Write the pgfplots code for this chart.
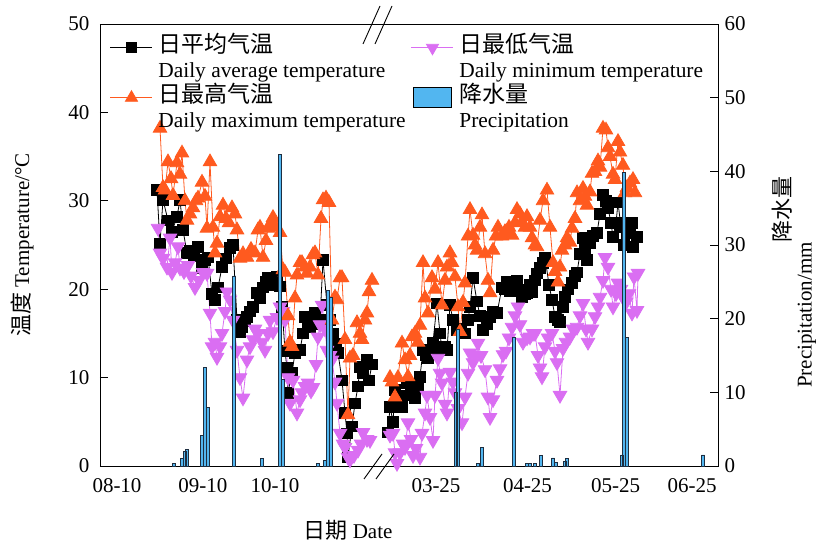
\documentclass[border=0pt]{standalone}
\usepackage{fontspec}
\setmainfont{Liberation Serif}
\newfontfamily\cjk{Noto Sans CJK SC}
\usepackage{pgfplots}
\usepackage{pgfplotstable}
\pgfplotsset{compat=1.18}

\definecolor{maxc}{HTML}{FF5A1F}
\definecolor{minc}{HTML}{DA6EF2}
\definecolor{barfill}{HTML}{52B6F0}
\definecolor{baredge}{HTML}{1E2E40}

% x = horizontal position along the (broken) date axis
\pgfplotstableread{
x y
157 31.2
160 25.2
163 30.1
168 27.8
172 26.5
177 28.2
180 30.1
183 26.7
187 24.1
190 24.4
194 23.8
198 24.8
202 22.4
205 23.3
208 23.6
212 19.5
215 18.8
218 20.2
222 22.5
226 23.5
230 24.7
233 25.0
237 16.5
240 15.2
242 15.7
245 16.4
247 16.9
250 17.5
253 18.0
257 19.6
260 19.0
263 20.2
266 20.8
268 21.3
271 20.5
273 20.7
277 21.4
280 20.3
282 18.0
285 13.0
287 11.1
288 8.3
292 10.5
295 12.8
300 13.1
303 15.0
305 16.9
308 16.0
310 15.7
313 16.5
315 17.3
318 16.0
320 16.5
323 23.3
327 18.2
330 16.5
333 15.0
336 13.8
338 12.8
342 9.7
345 6.0
347 3.7
348 1.0
352 4.5
355 7.1
358 9.0
360 11.2
363 10.5
367 12.0
369 9.7
372 11.5
380 nan
388 3.8
390 6.7
393 5.0
395 8.6
398 7.5
402 6.7
405 8.0
407 9.4
411 8.5
415 7.7
418 9.0
420 10.1
423 13.1
426 12.5
428 12.2
431 13.0
433 14.0
437 18.4
440 15.0
442 13.1
445 13.5
447 13.1
450 18.2
453 16.5
457 15.4
461 15.5
465 15.0
468 16.5
470 18.0
473 21.3
477 18.6
480 17.0
483 15.4
487 16.0
490 16.9
493 17.5
497 17.3
502 20.2
505 20.0
507 20.8
510 19.8
512 20.2
515 20.5
517 21.0
520 20.0
522 19.1
525 19.5
527 19.6
530 20.5
532 19.7
535 21.0
537 21.8
540 22.4
543 23.0
545 23.6
549 20.5
552 18.8
555 16.9
558 16.5
560 16.3
563 18.0
565 19.1
568 20.0
572 20.7
575 21.5
577 21.9
580 24.0
583 25.8
585 24.5
587 23.3
590 25.2
593 26.0
597 26.4
600 28.5
603 30.7
606 30.0
608 29.2
611 27.5
613 25.9
616 27.5
618 29.8
621 27.0
624 25.0
627 26.4
630 27.0
632 27.5
633 24.8
637 25.9
}\avgtab

\pgfplotstableread{
x y
160 38.2
163 31.5
165 31.2
168 34.4
171 32.5
173 30.6
177 34.3
180 33.0
182 35.4
185 30.0
187 27.8
190 28.5
193 29.2
196 30.0
198 30.3
202 32.1
205 30.5
207 26.9
210 34.4
213 27.0
215 24.1
217 25.2
220 28.2
223 29.5
226 28.0
229 27.5
232 29.2
235 28.5
237 26.7
240 23.5
243 24.0
247 23.6
251 24.5
255 24.1
258 26.7
260 27.0
263 23.6
266 25.5
268 26.9
271 27.5
273 28.1
276 27.0
280 26.4
283 22.2
285 21.9
288 17.0
290 14.0
292 13.5
295 19.0
297 21.6
300 23.0
302 23.0
305 22.5
307 21.8
310 22.5
313 23.9
315 24.1
318 21.6
321 28.0
323 30.1
326 30.3
329 29.8
332 16.5
335 19.1
337 18.8
340 21.3
342 21.3
345 14.3
348 5.8
350 12.2
353 12.5
357 16.2
360 15.0
362 14.3
365 16.5
367 17.3
369 19.7
372 21.0
380 nan
390 10.0
392 9.5
395 7.8
398 10.0
402 13.9
405 12.0
408 10.1
410 12.5
412 14.6
415 15.0
418 14.0
420 15.9
423 23.0
425 19.0
428 17.3
432 21.3
435 20.0
438 23.0
442 18.2
445 21.0
447 22.5
450 24.1
452 23.0
455 21.4
458 18.0
460 15.2
463 18.5
465 20.7
468 26.0
470 29.0
473 26.1
475 25.0
477 24.4
480 27.0
482 28.4
485 24.0
488 21.0
490 19.6
493 24.4
496 26.0
498 27.0
502 26.0
505 26.5
509 27.0
512 26.1
515 27.5
517 29.0
520 28.5
522 27.6
525 27.0
527 28.2
530 27.0
532 25.8
535 25.0
537 24.8
540 27.8
543 30.0
547 31.2
550 27.0
553 23.0
555 22.0
558 20.8
560 22.5
562 24.4
565 25.0
567 25.8
570 25.3
572 26.9
575 28.0
577 30.9
580 30.0
583 31.4
585 30.5
587 29.5
590 31.0
592 33.1
595 33.3
598 34.5
600 33.8
603 38.2
606 38.0
608 36.0
610 35.0
613 33.0
615 32.4
618 36.7
620 35.5
623 34.0
625 30.9
627 31.5
630 32.0
633 32.4
635 30.9
}\maxtab

\pgfplotstableread{
x y
158 26.9
160 24.1
163 23.5
167 22.5
170 25.8
172 21.9
175 23.0
178 24.8
180 22.4
184 22.0
188 22.7
191 21.5
195 20.2
199 21.0
203 21.9
207 21.8
210 17.3
212 13.5
215 14.0
217 12.3
220 13.5
222 15.0
225 17.5
227 19.7
230 18.8
233 16.5
237 13.1
240 10.0
243 7.7
247 12.0
250 13.5
253 14.3
255 15.5
258 15.0
262 14.0
265 13.1
268 15.0
270 16.5
273 15.2
277 16.8
280 18.0
283 17.5
285 16.5
288 10.0
290 7.1
293 9.7
297 6.0
300 7.5
302 8.3
305 9.0
308 9.4
311 8.5
313 8.9
316 11.5
318 14.6
320 16.0
322 18.2
325 15.5
327 13.1
330 12.5
332 12.0
335 9.5
337 7.1
340 3.7
343 2.5
345 2.1
348 1.0
350 0.7
354 1.2
358 1.8
361 2.5
363 3.8
367 3.0
370 2.9
380 nan
390 3.5
393 3.7
395 1.5
397 0.3
400 1.5
403 2.5
405 2.1
408 4.9
411 3.0
413 1.2
416 2.0
420 1.0
422 3.7
425 6.0
427 8.0
430 5.5
433 2.9
435 8.0
438 12.2
440 10.5
442 9.4
445 7.0
447 6.0
450 10.6
453 9.5
455 8.3
458 6.5
462 4.9
465 7.8
468 10.5
470 12.8
473 11.7
475 12.5
478 13.9
481 12.5
485 10.9
488 7.8
490 5.5
493 7.5
497 9.7
500 11.0
503 12.6
506 13.0
509 14.5
512 15.7
515 17.0
518 18.0
520 16.0
523 14.0
527 14.5
530 14.6
533 15.0
535 15.0
538 12.5
540 11.1
542 10.1
545 13.5
548 14.5
552 15.0
555 13.0
557 11.7
560 8.0
563 13.3
566 14.0
570 14.6
573 15.5
577 15.7
580 17.0
583 18.4
586 15.5
588 14.0
592 15.5
595 16.9
598 18.0
600 19.1
603 21.0
605 23.6
608 22.5
611 20.0
613 18.0
616 19.5
618 20.7
621 20.0
623 19.1
626 18.5
629 19.5
632 17.3
634 21.4
637 17.6
638 21.8
}\mintab

\pgfplotstableread{
x y
174 0.3
182 1.0
185 2.0
187 2.2
202 4.1
205 13.4
208 7.9
234 25.8
262 1.0
280 42.3
283 11.7
318 0.4
325 0.8
328 23.8
331 22.9
456 10.0
458 18.5
478 0.4
482 2.5
514 17.4
527 0.4
530 0.3
535 0.4
541 1.4
553 1.1
556 0.5
565 0.6
567 1.0
622 1.5
624 39.9
627 17.4
703 1.5
}\preciptab

\begin{document}
\begin{tikzpicture}
\useasboundingbox (-100pt,-78pt) rectangle (717pt,466pt);
\begin{axis}[
  at={(0pt,0pt)}, anchor=south west,
  scale only axis, width=618pt, height=442pt,
  xmin=100, xmax=718, ymin=0, ymax=50,
  ytick={0,10,20,30,40,50}, ytick pos=left,
  tick align=inside, major tick length=8pt,
  xtick={117,202.9,275,436,527.5,615.5,692},
  xticklabels={08-10,09-10,10-10,03-25,04-25,05-25,06-25},
  xtick pos=bottom, xtick style={draw=none},
  tick label style={font=\fontsize{21}{25}\selectfont},
  xticklabel style={yshift=-9pt},
  yticklabel style={xshift=-7pt},
  /pgf/number format/assume math mode=true,
  axis line style={line width=0.9pt},
  tick style={line width=0.9pt, black},
  unbounded coords=jump,
  legend columns=2,
  legend cell align=left,
  legend style={draw=none, fill=none, at={(0.016,0.975)}, anchor=north west,
    inner sep=0pt, row sep=0pt,
    nodes={inner sep=1.5pt, text height=16pt, text depth=6pt},
    font=\fontsize{21.4}{25}\selectfont,
    /tikz/every odd column/.append style={column sep=4pt},
    /tikz/every even column/.append style={column sep=4pt}},
  legend image code/.code={\draw[#1, mark repeat=2, mark phase=2] plot coordinates {(0pt,0pt) (21pt,0pt) (42pt,0pt)};},
]
\addplot[forget plot, black, line width=0.8pt, mark=square*, mark size=5.3pt, mark options={solid, fill=black}] table {\avgtab};
\addplot[forget plot, minc, line width=0.8pt, mark=triangle*, mark size=7.8pt, mark options={solid, fill=minc, rotate=180}] table {\mintab};
\addplot[forget plot, maxc, line width=0.8pt, mark=triangle*, mark size=7.8pt, mark options={solid, fill=maxc}] table {\maxtab};

\addlegendimage{black, line width=0.8pt, mark=square*, mark size=5pt}
\addlegendentry{{\cjk\fontsize{23}{26}\selectfont 日平均气温}}
\addlegendimage{minc, line width=0.8pt, mark=triangle*, mark size=7pt, mark options={rotate=180}}
\addlegendentry{{\cjk\fontsize{23}{26}\selectfont 日最低气温}}
\addlegendimage{empty legend}
\addlegendentry{Daily average temperature}
\addlegendimage{empty legend}
\addlegendentry{Daily minimum temperature}
\addlegendimage{maxc, line width=0.8pt, mark=triangle*, mark size=7pt}
\addlegendentry{{\cjk\fontsize{23}{26}\selectfont 日最高气温}}
\addlegendimage{legend image code/.code={\draw[fill=barfill, draw=black, line width=0.8pt] (2pt,-10pt) rectangle (40pt,10pt);}}
\addlegendentry{{\cjk\fontsize{23}{26}\selectfont 降水量}}
\addlegendimage{empty legend}
\addlegendentry{Daily maximum temperature}
\addlegendimage{empty legend}
\addlegendentry{Precipitation}
\end{axis}

\begin{axis}[
  at={(0pt,0pt)}, anchor=south west,
  scale only axis, width=618pt, height=442pt,
  xmin=100, xmax=718, ymin=0, ymax=60,
  axis x line=none, axis y line*=right,
  ytick={0,10,20,30,40,50,60},
  tick align=inside, major tick length=8pt,
  tick label style={font=\fontsize{21}{25}\selectfont},
  yticklabel style={xshift=3pt},
  /pgf/number format/assume math mode=true,
  axis line style={line width=0.9pt},
  tick style={line width=0.9pt, black},
]
\addplot[ybar, bar width=3pt, fill=barfill, draw=baredge, line width=0.7pt] table {\preciptab};
\end{axis}

% axis break marks
\draw[line width=0.9pt] (263pt,422pt) -- (280pt,460pt);
\draw[line width=0.9pt] (275pt,422pt) -- (292pt,460pt);
\draw[line width=0.9pt] (264pt,-13pt) -- (282pt,12pt);
\draw[line width=0.9pt] (276pt,-13pt) -- (294pt,12pt);

% axis titles
\node[rotate=90, font=\fontsize{21}{25}\selectfont] at (-78pt,221pt) {{\cjk\fontsize{22}{25}\selectfont 温度} Temperature/°C};
\node[rotate=90, font=\fontsize{22}{25}\selectfont\cjk] at (682pt,256pt) {降水量};
\node[rotate=90, font=\fontsize{21}{25}\selectfont] at (707pt,151pt) {Precipitation/mm};
\node[font=\fontsize{21}{25}\selectfont] at (248pt,-64pt) {{\cjk\fontsize{22}{25}\selectfont 日期} Date};
\end{tikzpicture}
\end{document}
